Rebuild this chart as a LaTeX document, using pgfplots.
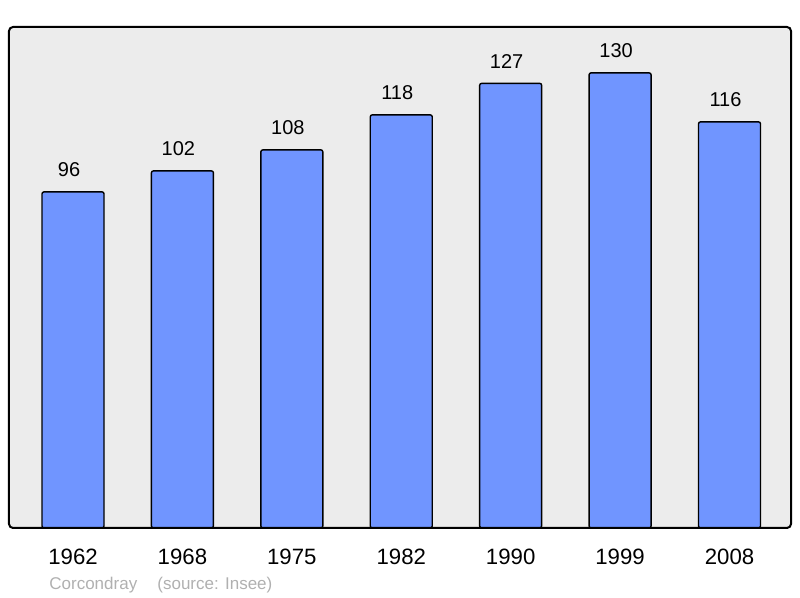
\documentclass[border=0pt]{standalone}
\usepackage{fontspec}
\setmainfont{Liberation Sans}
\usepackage{pgfplots}
\pgfplotsset{compat=1.18}
\definecolor{barblue}{RGB}{112,149,255}
\definecolor{bggray}{RGB}{236,236,236}
\definecolor{srcgray}{RGB}{176,176,176}
\begin{document}
\begin{tikzpicture}
\path[use as bounding box] (0,0) rectangle (400pt,299pt);
\begin{axis}[
  at={(4.5pt,35pt)}, anchor=south west,
  scale only axis, width=391pt, height=250.5pt,
  ymin=0, ymax=143.1,
  xmin=-0.585, xmax=6.562,
  axis line style={draw=none},
  axis background/.style={fill=bggray, rounded corners=2pt},
  ytick=\empty,
  xtick={0,1,2,3,4,5,6},
  xticklabels={1962,1968,1975,1982,1990,1999,2008},
  major tick length=0pt,
  xticklabel style={font=\fontsize{11.1}{13}\selectfont, anchor=base, yshift=-18.5pt},
  /pgf/number format/assume math mode=true,
  ybar, bar width=31pt,
  nodes near coords,
  nodes near coords style={font=\fontsize{10}{12}\selectfont, anchor=base, yshift=7.5pt, xshift=-2pt, inner sep=0pt},
  clip=false]
\addplot[fill=barblue, draw=black, line width=0.7pt, rounded corners=1pt]
  coordinates {(0,96) (1,102) (2,108) (3,118) (4,127) (5,130) (6,116)};
\draw[line width=1pt, rounded corners=2pt] (rel axis cs:0,0) rectangle (rel axis cs:1,1);
\end{axis}
\node[anchor=base west, inner sep=0pt, text=srcgray, font=\fontsize{8.5}{10}\selectfont] at (24.5pt,4pt) {Corcondray};
\node[anchor=base west, inner sep=0pt, text=srcgray, font=\fontsize{8.5}{10}\selectfont] at (78.5pt,4pt) {(source: Insee)};
\end{tikzpicture}
\end{document}
